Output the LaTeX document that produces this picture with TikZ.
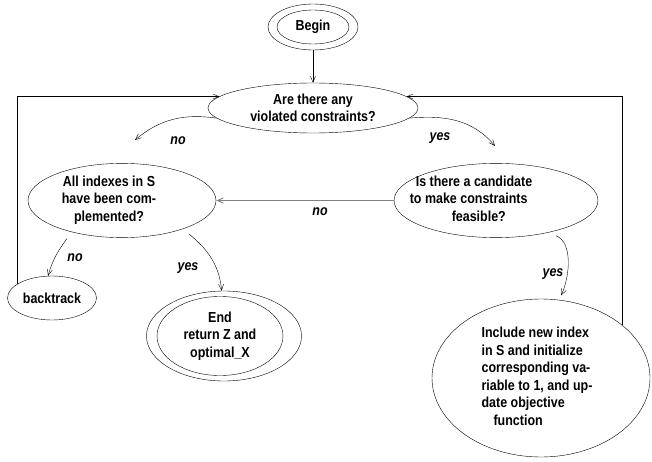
\documentclass[tikz,border=0pt]{standalone}
\usepackage{fontspec}
\setmainfont{Liberation Sans}[FakeStretch=0.86]
\usepackage{tikz}
\usetikzlibrary{arrows.meta,shapes.geometric}
\newcommand{\offtext}[3]{\makebox[0pt]{\hspace*{#1}\begin{tabular}{@{}#2@{}}#3\end{tabular}}}
\begin{document}
\begin{tikzpicture}[x=1pt,y=1pt,
  state/.style={ellipse,draw,thin,inner sep=0pt,align=center,font=\bfseries\fontsize{14.5}{17.5}\selectfont},
  arrow/.style={-{Straight Barb[length=6pt,width=5pt]},thin},
  lbl/.style={font=\bfseries\itshape\fontsize{14.5}{16}\selectfont}
]
\useasboundingbox (0,0) rectangle (652,461);
\node[state,minimum width=90pt,minimum height=46pt] (begin) at (313,434) {};
\node[state,minimum width=72pt,minimum height=34pt] (beginin) at (begin) {Begin};
\node[state,minimum width=210pt,minimum height=50pt] (viol) at (313,353) {Are there any\\violated constraints?};
\node[state,minimum width=188pt,minimum height=71pt] (allidx) at (122,260.5) {\offtext{-26pt}{c}{All indexes in S\\have been com-\\plemented?}};
\node[state,minimum width=204pt,minimum height=73pt] (cand) at (496,260.5) {\offtext{-50pt}{l}{\hspace*{6pt}Is there a candidate\\to make constraints\\\hspace*{42pt}feasible?}};
\node[state,minimum width=89pt,minimum height=44pt] (back) at (52,163) {backtrack};
\node[state,minimum width=155pt,minimum height=90pt] (end) at (224,125) {};
\node[state,minimum width=126pt,minimum height=79pt] (endin) at (220,125) {End\\return Z and\\optimal\_X};
\node[state,minimum width=218pt,minimum height=158pt] (incl) at (541,83) {\offtext{-8pt}{l}{Include new index\\in S and initialize\\corresponding va-\\riable to 1, and up-\\date objective\\\hspace*{12pt}function}};
\coordinate (noend) at (135,321);
\coordinate (yesend) at (495,315);
\draw[arrow] (begin) -- (viol);
\draw[arrow] (back.158) |- (viol.173);
\draw[arrow] (incl.33) |- (viol.7);
\draw[arrow] (viol.186) to[out=172,in=40] (noend);
\node[lbl] (noa) at (178,320) {no};
\draw[arrow] (viol.354) to[out=5,in=130] (yesend);
\node[lbl] (yesa) at (440,323) {yes};
\draw[arrow,draw=gray,line width=0.9pt] (cand) -- (allidx);
\node[lbl] (nob) at (320,249) {no};
\draw[arrow,shorten <=8pt] (allidx.212) to[out=235,in=75] (back.100);
\node[lbl] (noc) at (75,203) {no};
\draw[arrow,shorten <=8pt] (allidx.335) to[out=-40,in=95] (end.93);
\node[lbl] (yesb) at (188,193) {yes};
\draw[arrow,shorten <=9pt,shorten >=5pt] (cand.328) to[out=-20,in=65] (incl.77);
\node[lbl] (yesc) at (553,187) {yes};
\end{tikzpicture}
\end{document}
